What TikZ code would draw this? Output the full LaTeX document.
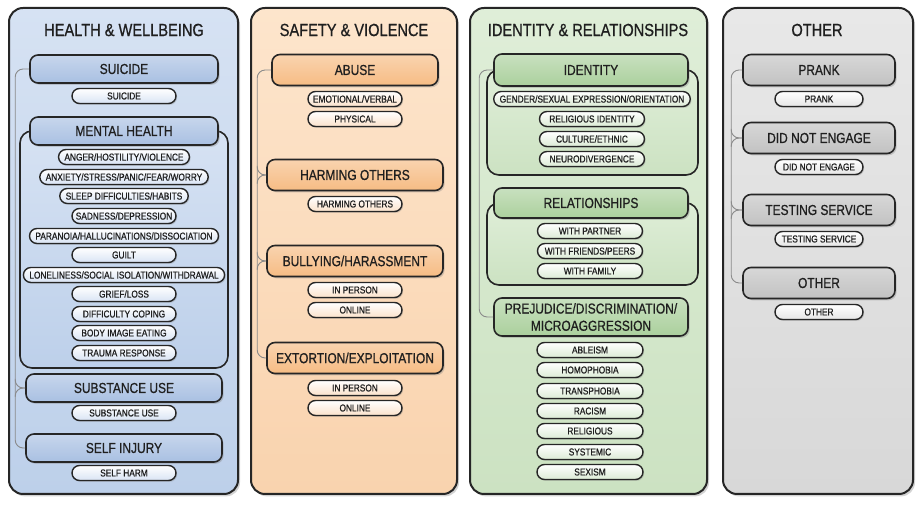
\documentclass[tikz,border=0pt]{standalone}
\usepackage{fontspec}
\setmainfont{Liberation Sans}[FakeStretch=0.83,FakeBold=0.8]
\usepackage{tikz}
\usetikzlibrary{
  shapes.misc,
  shadows
}

% 色の定義
\definecolor{inkline}{HTML}{262626}
\definecolor{railline}{HTML}{8A8A8A}
\definecolor{hwtop}{HTML}{D6E2F3}
\definecolor{hwbot}{HTML}{BDD0EA}
\definecolor{hwhead}{HTML}{A9C0E2}
\definecolor{hwitem}{HTML}{D9E4F4}
\definecolor{svtop}{HTML}{FDE5CC}
\definecolor{svbot}{HTML}{F9D3AE}
\definecolor{svhead}{HTML}{F6BC84}
\definecolor{svitem}{HTML}{FBE2CB}
\definecolor{irtop}{HTML}{DFEED8}
\definecolor{irbot}{HTML}{CCE2C2}
\definecolor{irhead}{HTML}{ABD09D}
\definecolor{iritem}{HTML}{DCEBD5}
\definecolor{ottop}{HTML}{E8E8E8}
\definecolor{otbot}{HTML}{D8D8D8}
\definecolor{othead}{HTML}{C2C2C2}
\definecolor{otitem}{HTML}{E6E6E6}

\begin{document}
\begin{tikzpicture}[%詳細設定
    x=0.5pt,y=-0.5pt,
    every node/.style={text=black!88},
    panel/.style 2 args={
        draw=inkline,
        line width=1pt,
        rounded corners=7pt,
        top color=#1,
        bottom color=#2,
        drop shadow={shadow xshift=1pt,shadow yshift=-1.2pt,opacity=.35}
      },
    group/.style 2 args={
        draw=inkline,
        line width=.8pt,
        rounded corners=6pt,
        top color=#1,
        bottom color=#2
      },
    title/.style={
        font=\fontsize{8.8}{10}\selectfont
      },
    header/.style={
        draw=inkline,
        line width=.8pt,
        rounded corners=4pt,
        top color=#1!65,
        bottom color=#1,
        minimum height=14pt,
        inner sep=1pt,
        align=center,
        font=\fontsize{7.2}{8.6}\selectfont,
        drop shadow={shadow xshift=.8pt,shadow yshift=-.9pt,opacity=.35}
      },
    item/.style={
        rounded rectangle,
        draw=inkline,
        line width=.7pt,
        top color=white,
        bottom color=#1,
        minimum height=7.5pt,
        inner xsep=2.5pt,
        inner ysep=0pt,
        font=\fontsize{5}{6}\selectfont,
        drop shadow={shadow xshift=.6pt,shadow yshift=-.7pt,opacity=.3}
      },
    rail/.style={
        draw=railline,
        line width=.45pt,
        rounded corners=4pt
      }
  ]

  \useasboundingbox (0,0) rectangle (922,506);

  % パネル
  \path[panel={hwtop}{hwbot}] (9,8) rectangle (238,494);
  \path[panel={svtop}{svbot}] (251,8) rectangle (457,494);
  \path[panel={irtop}{irbot}] (470,8) rectangle (707,494);
  \path[panel={ottop}{otbot}] (723,8) rectangle (913,494);

  % HEALTH & WELLBEING
  \node[title] (hw_title) at (124,30) {HEALTH \& WELLBEING};
  \path[group={hwtop}{hwbot}] (20,131) rectangle (228,368);
  \node[header=hwhead,minimum width=94pt] (hw_suicide) at (124,69) {SUICIDE};
  \node[item=hwitem,minimum width=57pt] (hw_suicide_1) at (124,96) {SUICIDE};
  \node[header=hwhead,minimum width=94pt] (hw_mental) at (124,131) {MENTAL HEALTH};
  \node[item=hwitem,minimum width=57pt] (hw_mental_1) at (124,157) {ANGER/HOSTILITY/VIOLENCE};
  \node[item=hwitem,minimum width=57pt] (hw_mental_2) at (124,177) {ANXIETY/STRESS/PANIC/FEAR/WORRY};
  \node[item=hwitem,minimum width=57pt] (hw_mental_3) at (124,196) {SLEEP DIFFICULTIES/HABITS};
  \node[item=hwitem,minimum width=57pt] (hw_mental_4) at (124,216) {SADNESS/DEPRESSION};
  \node[item=hwitem,minimum width=57pt] (hw_mental_5) at (124,236) {PARANOIA/HALLUCINATIONS/DISSOCIATION};
  \node[item=hwitem,minimum width=57pt] (hw_mental_6) at (124,255) {GUILT};
  \node[item=hwitem,minimum width=57pt] (hw_mental_7) at (124,275) {LONELINESS/SOCIAL ISOLATION/WITHDRAWAL};
  \node[item=hwitem,minimum width=57pt] (hw_mental_8) at (124,294) {GRIEF/LOSS};
  \node[item=hwitem,minimum width=57pt] (hw_mental_9) at (124,314) {DIFFICULTY COPING};
  \node[item=hwitem,minimum width=57pt] (hw_mental_10) at (124,333) {BODY IMAGE EATING};
  \node[item=hwitem,minimum width=57pt] (hw_mental_11) at (124,353) {TRAUMA RESPONSE};
  \node[header=hwhead,minimum width=98pt] (hw_substance) at (124,388) {SUBSTANCE USE};
  \node[item=hwitem,minimum width=57pt] (hw_substance_1) at (124,413) {SUBSTANCE USE};
  \node[header=hwhead,minimum width=98pt] (hw_self) at (124,448) {SELF INJURY};
  \node[item=hwitem,minimum width=57pt] (hw_self_1) at (124,473) {SELF HARM};
  % 左の線
  \draw[rail] (hw_suicide.west) -- ++(-14,0) |- (hw_self.west);
  \draw[rail] (hw_substance.west) -| ++(-10,-9);
  \draw[rail] (hw_substance.west) -| ++(-10,9);

  % SAFETY & VIOLENCE
  \node[title] (sv_title) at (354,30) {SAFETY \& VIOLENCE};
  \node[header=svhead,minimum width=83pt,minimum height=15.5pt] (sv_abuse) at (355,70) {ABUSE};
  \node[item=svitem,minimum width=52pt] (sv_abuse_1) at (355,99) {EMOTIONAL/VERBAL};
  \node[item=svitem,minimum width=52pt] (sv_abuse_2) at (355,119) {PHYSICAL};
  \node[header=svhead,minimum width=88pt,minimum height=15.5pt] (sv_harming) at (355,175) {HARMING OTHERS};
  \node[item=svitem,minimum width=52pt] (sv_harming_1) at (355,204) {HARMING OTHERS};
  \node[header=svhead,minimum width=88pt,minimum height=15.5pt] (sv_bullying) at (355,261) {BULLYING/HARASSMENT};
  \node[item=svitem,minimum width=52pt] (sv_bullying_1) at (355,290) {IN PERSON};
  \node[item=svitem,minimum width=52pt] (sv_bullying_2) at (355,310) {ONLINE};
  \node[header=svhead,minimum width=88pt,minimum height=15.5pt] (sv_extortion) at (355,358) {EXTORTION/EXPLOITATION};
  \node[item=svitem,minimum width=52pt] (sv_extortion_1) at (355,388) {IN PERSON};
  \node[item=svitem,minimum width=52pt] (sv_extortion_2) at (355,408) {ONLINE};
  % 左の線
  \draw[rail] (sv_abuse.west) -- ++(-14,0) |- (sv_extortion.west);
  \foreach \n in {sv_harming,sv_bullying}{
      \draw[rail] (\n.west) -| ++(-9,-9);
      \draw[rail] (\n.west) -| ++(-9,9);
    }

  % IDENTITY & RELATIONSHIPS
  \node[title] (ir_title) at (588,30) {IDENTITY \& RELATIONSHIPS};
  \path[group={irtop}{irbot}] (487,70) rectangle (698,175);
  \path[group={irtop}{irbot}] (487,203) rectangle (698,285);
  \node[header=irhead,minimum width=97pt,minimum height=16pt] (ir_identity) at (591,70) {IDENTITY};
  \node[item=iritem,minimum width=57.5pt] (ir_identity_1) at (592,99) {GENDER/SEXUAL EXPRESSION/ORIENTATION};
  \node[item=iritem,minimum width=57.5pt] (ir_identity_2) at (592,119) {RELIGIOUS IDENTITY};
  \node[item=iritem,minimum width=57.5pt] (ir_identity_3) at (592,139) {CULTURE/ETHNIC};
  \node[item=iritem,minimum width=57.5pt] (ir_identity_4) at (592,159) {NEURODIVERGENCE};
  \node[header=irhead,minimum width=97pt,minimum height=15pt] (ir_relationships) at (591,203) {RELATIONSHIPS};
  \node[item=iritem,minimum width=57.5pt] (ir_relationships_1) at (590,231) {WITH PARTNER};
  \node[item=iritem,minimum width=57.5pt] (ir_relationships_2) at (590,251) {WITH FRIENDS/PEERS};
  \node[item=iritem,minimum width=57.5pt] (ir_relationships_3) at (590,271) {WITH FAMILY};
  \node[header=irhead,minimum width=97pt,minimum height=19pt] (ir_prejudice) at (591,317) {PREJUDICE/DISCRIMINATION/\\MICROAGGRESSION};
  \node[item=iritem,minimum width=58pt] (ir_prejudice_1) at (590,350) {ABLEISM};
  \node[item=iritem,minimum width=58pt] (ir_prejudice_2) at (590,370) {HOMOPHOBIA};
  \node[item=iritem,minimum width=58pt] (ir_prejudice_3) at (590,391) {TRANSPHOBIA};
  \node[item=iritem,minimum width=58pt] (ir_prejudice_4) at (590,411) {RACISM};
  \node[item=iritem,minimum width=58pt] (ir_prejudice_5) at (590,431) {RELIGIOUS};
  \node[item=iritem,minimum width=58pt] (ir_prejudice_6) at (590,452) {SYSTEMIC};
  \node[item=iritem,minimum width=58pt] (ir_prejudice_7) at (590,472) {SEXISM};
  % 左の線
  \draw[rail] (ir_identity.west) -- ++(-14,0) |- (ir_prejudice.west);

  % OTHER
  \node[title] (ot_title) at (817,30) {OTHER};
  \node[header=othead,minimum width=76pt,minimum height=15.5pt] (ot_prank) at (819,70) {PRANK};
  \node[item=otitem,minimum width=49pt] (ot_prank_1) at (819,99) {PRANK};
  \node[header=othead,minimum width=76pt,minimum height=15.5pt] (ot_engage) at (819,138) {DID NOT ENGAGE};
  \node[item=otitem,minimum width=49pt] (ot_engage_1) at (819,167) {DID NOT ENGAGE};
  \node[header=othead,minimum width=76pt,minimum height=15.5pt] (ot_testing) at (819,210) {TESTING SERVICE};
  \node[item=otitem,minimum width=49pt] (ot_testing_1) at (819,239) {TESTING SERVICE};
  \node[header=othead,minimum width=76pt,minimum height=15.5pt] (ot_other) at (819,283) {OTHER};
  \node[item=otitem,minimum width=49pt] (ot_other_1) at (819,312) {OTHER};
  % 左の線
  \draw[rail] (ot_prank.west) -- ++(-11,0) |- (ot_other.west);
  \foreach \n in {ot_engage,ot_testing}{
      \draw[rail] (\n.west) -| ++(-11,-9);
      \draw[rail] (\n.west) -| ++(-11,9);
    }

\end{tikzpicture}
\end{document}
